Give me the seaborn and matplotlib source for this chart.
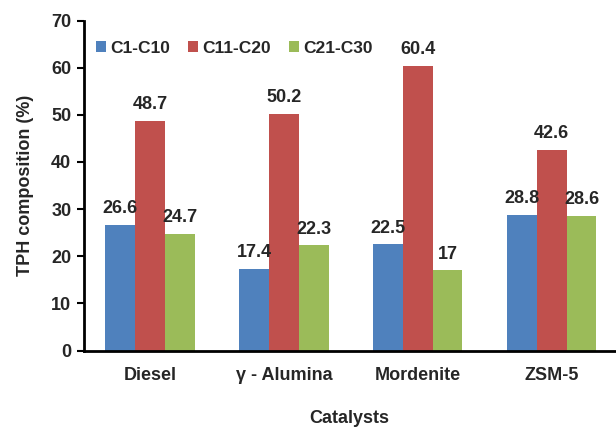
import matplotlib
matplotlib.use("Agg")
import matplotlib.pyplot as plt
import pandas as pd
import seaborn as sns

catalysts = ["Diesel", "\u03b3 - Alumina", "Mordenite", "ZSM-5"]
c1_c10 = [26.6, 17.4, 22.5, 28.8]
c11_c20 = [48.7, 50.2, 60.4, 42.6]
c21_c30 = [24.7, 22.3, 17, 28.6]
series = ["C1-C10", "C11-C20", "C21-C30"]
colors = ["#4F81BD", "#C0504D", "#9BBB59"]

if __name__ == "__main__":
    sns.set_theme(style="white")
    plt.rcParams["font.family"] = ["Liberation Sans", "DejaVu Sans"]
    plt.rcParams["font.weight"] = "bold"

    rows = []
    for s, vals in zip(series, [c1_c10, c11_c20, c21_c30]):
        for cat, v in zip(catalysts, vals):
            rows.append({"catalyst": cat, "series": s, "value": v})
    df = pd.DataFrame(rows)

    fig = plt.figure(figsize=(6.16, 4.28), dpi=100)
    ax = fig.add_axes([0.136, 0.181, 0.862, 0.771])
    sns.barplot(data=df, x="catalyst", y="value", hue="series", palette=colors,
                width=0.666, saturation=1, ax=ax, linewidth=0)

    for cont in ax.containers:
        labels = [f"{v:g}" for v in cont.datavalues]
        ax.bar_label(cont, labels=labels, padding=5.5, fontsize=13, fontweight="bold")

    ax.set_ylim(0, 70)
    ax.set_xlim(-0.494, 3.47)
    ax.set_yticks(range(0, 71, 10))
    ax.set_xlabel("Catalysts", fontsize=13, fontweight="bold", labelpad=18.5)
    ax.set_ylabel("TPH composition (%)", fontsize=13, fontweight="bold", labelpad=12)
    ax.tick_params(axis="y", which="major", left=True, length=5, width=1.5,
                   color="black", labelsize=13, pad=4)
    ax.tick_params(axis="x", bottom=False, labelsize=13, pad=6)
    for lab in ax.get_xticklabels() + ax.get_yticklabels():
        lab.set_fontweight("bold")
    for side in ["top", "right"]:
        ax.spines[side].set_visible(False)
    for side in ["left", "bottom"]:
        ax.spines[side].set_color("black")
        ax.spines[side].set_linewidth(2)

    leg = ax.legend(loc="upper left", bbox_to_anchor=(0.0, 0.975), ncol=3,
                    frameon=False, fontsize=12.5, handlelength=0.6, handleheight=0.6,
                    handletextpad=0.25, columnspacing=1.0, borderaxespad=0.3)
    for t in leg.get_texts():
        t.set_fontweight("bold")

    fig.savefig("out.png", dpi=100)
